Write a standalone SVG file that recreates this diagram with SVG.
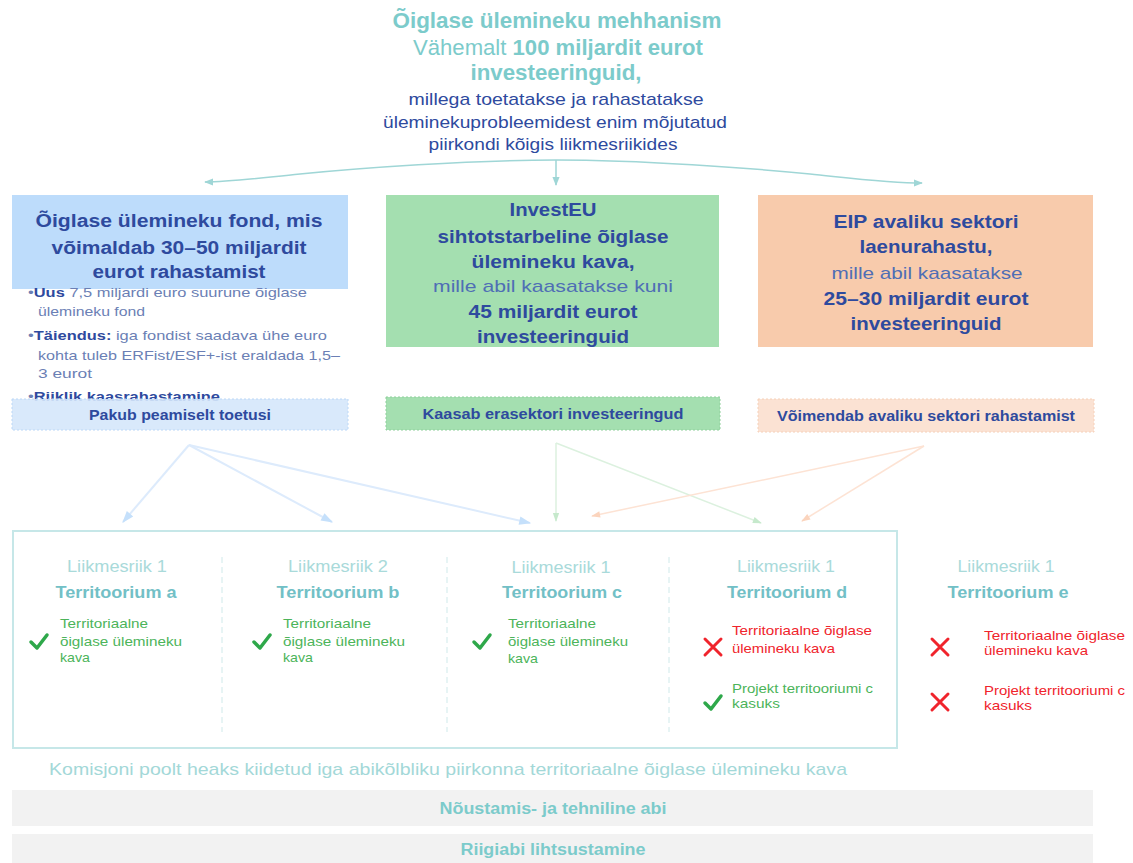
<svg xmlns="http://www.w3.org/2000/svg" width="1133" height="863" viewBox="0 0 1133 863">
<defs>
<style>
text{font-family:"Liberation Sans",Arial,sans-serif}
.t{fill:#7ccbcb;font-weight:bold;font-size:22px;text-anchor:middle}
.tn{fill:#7ccbcb;font-size:22px;text-anchor:middle}
.sub{fill:#2e4a9e;font-size:17px;text-anchor:middle}
.bh{fill:#2e4a9e;font-weight:bold;font-size:18px;text-anchor:middle}
.bn{fill:#4f6eb5;font-size:17px;text-anchor:middle}
.bul{fill:#6b7fb5;font-size:13.5px}
.bulb{fill:#2e4a9e;font-weight:bold}
.lab{fill:#2e4a9e;font-weight:bold;font-size:15px;text-anchor:middle}
.ms{fill:#a9dada;font-size:16.5px;text-anchor:middle}
.ter{fill:#72c0c6;font-weight:bold;font-size:17px;text-anchor:middle}
.ok{fill:#4cb45a;font-size:13.5px}
.no{fill:#f0242c;font-size:13.5px}
.chk{fill:none;stroke:#2ea84a;stroke-width:3.5;stroke-linecap:round;stroke-linejoin:round}
.x{fill:none;stroke:#f0242c;stroke-width:3;stroke-linecap:round}
.gb{fill:#7ccbcb;font-weight:bold;font-size:16px;text-anchor:middle}
.div{stroke:#cfe9ea;stroke-width:1;stroke-dasharray:6 4}
</style>
<marker id="mt" viewBox="0 0 10 10" refX="9" refY="5" markerWidth="6" markerHeight="6" orient="auto"><path d="M0,1 L10,5 L0,9 z" fill="#9fd6d6"/></marker>
<marker id="mb" viewBox="0 0 10 10" refX="9" refY="5" markerWidth="7" markerHeight="6" orient="auto"><path d="M0,1.5 L10,5 L0,8.5 z" fill="#c5e0fb"/></marker>
<marker id="mg" viewBox="0 0 10 10" refX="9" refY="5" markerWidth="7" markerHeight="6" orient="auto"><path d="M0,1.5 L10,5 L0,8.5 z" fill="#c6e9cc"/></marker>
<marker id="mo" viewBox="0 0 10 10" refX="9" refY="5" markerWidth="7" markerHeight="6" orient="auto"><path d="M0,1.5 L10,5 L0,8.5 z" fill="#fbd4bd"/></marker>
</defs>
<rect width="1133" height="863" fill="#ffffff"/>

<g id="title">
<text class="t" x="557" y="28" textLength="329" lengthAdjust="spacingAndGlyphs">Õiglase ülemineku mehhanism</text>
<text class="tn" x="558" y="55" textLength="290" lengthAdjust="spacingAndGlyphs">Vähemalt <tspan font-weight="bold">100 miljardit eurot</tspan></text>
<text class="t" x="556" y="80" textLength="171" lengthAdjust="spacingAndGlyphs">investeeringuid,</text>
<text class="sub" x="556" y="105" textLength="295" lengthAdjust="spacingAndGlyphs">millega toetatakse ja rahastatakse</text>
<text class="sub" x="555" y="128" textLength="344" lengthAdjust="spacingAndGlyphs">üleminekuprobleemidest enim mõjutatud</text>
<text class="sub" x="553" y="150" textLength="249" lengthAdjust="spacingAndGlyphs">piirkondi kõigis liikmesriikides</text>
</g>

<g id="connectors" fill="none">
<path d="M556,160 C470,160 360,168 300,174 C260,178 230,182 205,182" stroke="#9fd6d6" stroke-width="1.5" marker-end="url(#mt)"/>
<path d="M556,160 C640,160 750,168 810,174 C850,178 890,183 922,183" stroke="#9fd6d6" stroke-width="1.5" marker-end="url(#mt)"/>
<path d="M556,160 L556,185" stroke="#9fd6d6" stroke-width="1.5" marker-end="url(#mt)"/>
<path d="M189,445 L123,522" stroke="#ddebfc" stroke-width="2" marker-end="url(#mb)"/>
<path d="M189,445 L332,522" stroke="#ddebfc" stroke-width="2" marker-end="url(#mb)"/>
<path d="M189,445 L530,523" stroke="#ddebfc" stroke-width="2" marker-end="url(#mb)"/>
<path d="M556,443 L556,521" stroke="#dcf1df" stroke-width="1.5" marker-end="url(#mg)"/>
<path d="M556,443 L761,523" stroke="#dcf1df" stroke-width="1.5" marker-end="url(#mg)"/>
<path d="M924,446 L592,516" stroke="#fde3d4" stroke-width="1.5" marker-end="url(#mo)"/>
<path d="M924,446 L802,521" stroke="#fde3d4" stroke-width="1.5" marker-end="url(#mo)"/>
</g>

<g id="fund">
<rect x="12" y="195" width="336" height="94" fill="#bddcfb"/>
<text class="bh" x="179" y="227" textLength="287" lengthAdjust="spacingAndGlyphs">Õiglase ülemineku fond, mis</text>
<text class="bh" x="179" y="254" textLength="255" lengthAdjust="spacingAndGlyphs">võimaldab 30–50 miljardit</text>
<text class="bh" x="179" y="278" textLength="173" lengthAdjust="spacingAndGlyphs">eurot rahastamist</text>
<text class="bul" x="28" y="297" textLength="279" lengthAdjust="spacingAndGlyphs">•<tspan class="bulb">Uus</tspan> 7,5 miljardi euro suurune õiglase</text>
<text class="bul" x="38" y="316" textLength="107" lengthAdjust="spacingAndGlyphs">ülemineku fond</text>
<text class="bul" x="28" y="340" textLength="299" lengthAdjust="spacingAndGlyphs">•<tspan class="bulb">Täiendus:</tspan> iga fondist saadava ühe euro</text>
<text class="bul" x="38" y="360" textLength="302" lengthAdjust="spacingAndGlyphs">kohta tuleb ERFist/ESF+-ist eraldada 1,5–</text>
<text class="bul" x="38" y="378" textLength="54" lengthAdjust="spacingAndGlyphs">3 eurot</text>
<text class="bul" x="28" y="401" textLength="192" lengthAdjust="spacingAndGlyphs">•<tspan class="bulb">Riiklik kaasrahastamine</tspan></text>
</g>
<g id="fund-label">
<rect x="12" y="399" width="336" height="31" fill="#d5e7fb" fill-opacity="0.9" stroke="#bcd8f7" stroke-dasharray="2 2"/>
<text class="lab" x="180" y="420" textLength="182" lengthAdjust="spacingAndGlyphs">Pakub peamiselt toetusi</text>
</g>

<g id="investeu">
<rect x="386" y="195" width="333" height="152" fill="#a4dfb0"/>
<text class="bh" x="553" y="216" textLength="87" lengthAdjust="spacingAndGlyphs">InvestEU</text>
<text class="bh" x="553" y="243" textLength="231" lengthAdjust="spacingAndGlyphs">sihtotstarbeline õiglase</text>
<text class="bh" x="553" y="268" textLength="163" lengthAdjust="spacingAndGlyphs">ülemineku kava,</text>
<text class="bn" x="553" y="292" textLength="240" lengthAdjust="spacingAndGlyphs">mille abil kaasatakse kuni</text>
<text class="bh" x="553" y="318" textLength="169" lengthAdjust="spacingAndGlyphs">45 miljardit eurot</text>
<text class="bh" x="553" y="343" textLength="152" lengthAdjust="spacingAndGlyphs">investeeringuid</text>
</g>
<g id="investeu-label">
<rect x="386" y="397" width="334" height="33" fill="#a4dfb0" stroke="#8fd09c" stroke-dasharray="2 2"/>
<text class="lab" x="553" y="419" textLength="261" lengthAdjust="spacingAndGlyphs">Kaasab erasektori investeeringud</text>
</g>

<g id="eib">
<rect x="758" y="195" width="335" height="152" fill="#f8cbac"/>
<text class="bh" x="926" y="228" textLength="185" lengthAdjust="spacingAndGlyphs">EIP avaliku sektori</text>
<text class="bh" x="926" y="253" textLength="133" lengthAdjust="spacingAndGlyphs">laenurahastu,</text>
<text class="bn" x="927" y="279" textLength="191" lengthAdjust="spacingAndGlyphs">mille abil kaasatakse</text>
<text class="bh" x="926" y="305" textLength="205" lengthAdjust="spacingAndGlyphs">25–30 miljardit eurot</text>
<text class="bh" x="926" y="330" textLength="151" lengthAdjust="spacingAndGlyphs">investeeringuid</text>
</g>
<g id="eib-label">
<rect x="758" y="399" width="336" height="33" fill="#fbe2d3" stroke="#f6d0b8" stroke-dasharray="2 2"/>
<text class="lab" x="926" y="421" textLength="298" lengthAdjust="spacingAndGlyphs">Võimendab avaliku sektori rahastamist</text>
</g>

<g id="territories-frame">
<rect x="13" y="531" width="884" height="217" fill="none" stroke="#c6e7e8" stroke-width="2"/>
<line class="div" x1="222" y1="557" x2="222" y2="732"/>
<line class="div" x1="447" y1="557" x2="447" y2="732"/>
<line class="div" x1="669" y1="557" x2="669" y2="732"/>
</g>

<g id="territory-a">
<text class="ms" x="117" y="572" textLength="100" lengthAdjust="spacingAndGlyphs">Liikmesriik 1</text>
<text class="ter" x="116" y="598" textLength="121" lengthAdjust="spacingAndGlyphs">Territoorium a</text>
<path class="chk" d="M31,642 L37,648 L47,635"/>
<text class="ok" x="60" y="628" textLength="88" lengthAdjust="spacingAndGlyphs">Territoriaalne</text>
<text class="ok" x="60" y="646" textLength="122" lengthAdjust="spacingAndGlyphs">õiglase ülemineku</text>
<text class="ok" x="60" y="662" textLength="30" lengthAdjust="spacingAndGlyphs">kava</text>
</g>
<g id="territory-b">
<text class="ms" x="338" y="572" textLength="100" lengthAdjust="spacingAndGlyphs">Liikmesriik 2</text>
<text class="ter" x="338" y="598" textLength="123" lengthAdjust="spacingAndGlyphs">Territoorium b</text>
<path class="chk" d="M254,642 L260,648 L270,635"/>
<text class="ok" x="283" y="628" textLength="88" lengthAdjust="spacingAndGlyphs">Territoriaalne</text>
<text class="ok" x="283" y="646" textLength="122" lengthAdjust="spacingAndGlyphs">õiglase ülemineku</text>
<text class="ok" x="283" y="662" textLength="30" lengthAdjust="spacingAndGlyphs">kava</text>
</g>
<g id="territory-c">
<text class="ms" x="561" y="573" textLength="99" lengthAdjust="spacingAndGlyphs">Liikmesriik 1</text>
<text class="ter" x="562" y="598" textLength="120" lengthAdjust="spacingAndGlyphs">Territoorium c</text>
<path class="chk" d="M474,642 L480,648 L490,635"/>
<text class="ok" x="508" y="628" textLength="88" lengthAdjust="spacingAndGlyphs">Territoriaalne</text>
<text class="ok" x="508" y="646" textLength="120" lengthAdjust="spacingAndGlyphs">õiglase ülemineku</text>
<text class="ok" x="508" y="663" textLength="30" lengthAdjust="spacingAndGlyphs">kava</text>
</g>
<g id="territory-d">
<text class="ms" x="786" y="572" textLength="98" lengthAdjust="spacingAndGlyphs">Liikmesriik 1</text>
<text class="ter" x="787" y="598" textLength="120" lengthAdjust="spacingAndGlyphs">Territoorium d</text>
<path class="x" d="M705,639 L721,655 M721,639 L705,655"/>
<text class="no" x="732" y="635" textLength="140" lengthAdjust="spacingAndGlyphs">Territoriaalne õiglase</text>
<text class="no" x="732" y="653" textLength="103" lengthAdjust="spacingAndGlyphs">ülemineku kava</text>
<path class="chk" d="M705,703 L711,709 L721,696"/>
<text class="ok" x="732" y="693" textLength="141" lengthAdjust="spacingAndGlyphs">Projekt territooriumi c</text>
<text class="ok" x="732" y="708" textLength="48" lengthAdjust="spacingAndGlyphs">kasuks</text>
</g>
<g id="territory-e">
<text class="ms" x="1006" y="572" textLength="97" lengthAdjust="spacingAndGlyphs">Liikmesriik 1</text>
<text class="ter" x="1008" y="598" textLength="121" lengthAdjust="spacingAndGlyphs">Territoorium e</text>
<path class="x" d="M932,639 L948,655 M948,639 L932,655"/>
<text class="no" x="984" y="640" textLength="141" lengthAdjust="spacingAndGlyphs">Territoriaalne õiglase</text>
<text class="no" x="984" y="655" textLength="104" lengthAdjust="spacingAndGlyphs">ülemineku kava</text>
<path class="x" d="M932,694 L948,710 M948,694 L932,710"/>
<text class="no" x="984" y="695" textLength="141" lengthAdjust="spacingAndGlyphs">Projekt territooriumi c</text>
<text class="no" x="984" y="710" textLength="48" lengthAdjust="spacingAndGlyphs">kasuks</text>
</g>

<g id="footnote">
<text x="49" y="775" fill="#a3d8d8" font-size="17" textLength="798" lengthAdjust="spacingAndGlyphs">Komisjoni poolt heaks kiidetud iga abikõlbliku piirkonna territoriaalne õiglase ülemineku kava</text>
</g>
<g id="advisory">
<rect x="12" y="790" width="1081" height="36" fill="#f2f2f2"/>
<text class="gb" x="553" y="814" textLength="227" lengthAdjust="spacingAndGlyphs">Nõustamis- ja tehniline abi</text>
</g>
<g id="state-aid">
<rect x="12" y="834" width="1081" height="29" fill="#f2f2f2"/>
<text class="gb" x="553" y="855" textLength="185" lengthAdjust="spacingAndGlyphs">Riigiabi lihtsustamine</text>
</g>
</svg>
